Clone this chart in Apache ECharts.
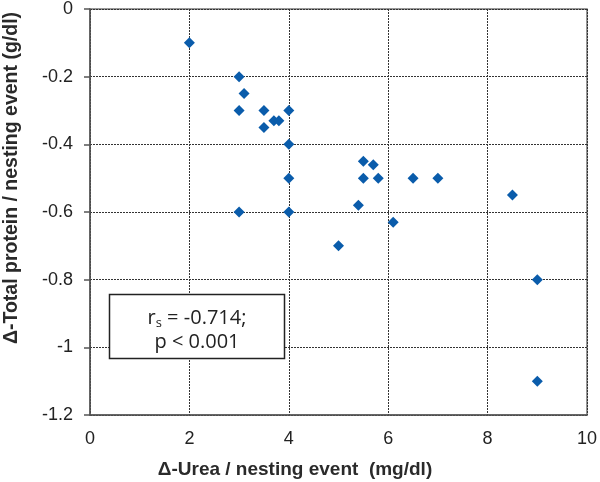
<!DOCTYPE html>
<html>
<head>
<meta charset="utf-8">
<script src="https://cdn.jsdelivr.net/npm/echarts@6/dist/echarts.min.js"></script>
<style>
html,body{margin:0;padding:0;background:#fff;}
#chart{width:600px;height:482px;}
</style>
</head>
<body>
<div id="chart"></div>
<script>
// Δ-Urea per nesting event (mg/dl)
const ureaValues = [2, 3, 3.1, 3, 3.5, 3.5, 3.7, 3.8, 4, 4, 4, 3, 4,
                    5.5, 5.7, 5.5, 5.8, 6.5, 7, 8.5, 5.4, 6.1, 5, 9, 9];
// Δ-Total protein per nesting event (g/dl)
const proteinValues = [-0.1, -0.2, -0.25, -0.3, -0.3, -0.35, -0.33, -0.33, -0.3, -0.4, -0.5, -0.6, -0.6,
                       -0.45, -0.46, -0.5, -0.5, -0.5, -0.5, -0.55, -0.58, -0.63, -0.7, -0.8, -1.1];
const xTickLabels = ['0', '2', '4', '6', '8', '10'];
const yTickLabels = ['0', '-0.2', '-0.4', '-0.6', '-0.8', '-1', '-1.2'];
const xTitle = 'Δ-Urea / nesting event  (mg/dl)';
const yTitle = 'Δ-Total protein / nesting event (g/dl)';
const statLine1 = ['r', 's', ' = -0.714;'];
const statLine2 = 'p < 0.001';

const points = ureaValues.map((u, i) => [u, proteinValues[i]]);

const chart = echarts.init(document.getElementById('chart'), null, {renderer: 'canvas'});
const labelFont = {fontFamily: 'Liberation Sans, Arial, sans-serif', fontSize: 18, color: '#222'};

chart.setOption({
  animation: false,
  backgroundColor: '#fff',
  grid: {left: 90, right: 11, top: 7, bottom: 67, show: true, borderColor: '#777', borderWidth: 1.5, backgroundColor: 'transparent'},
  xAxis: {
    type: 'value', min: 0, max: 10, interval: 2,
    axisLine: {show: true, onZero: false, lineStyle: {color: '#555', width: 1.5}},
    axisTick: {show: false},
    axisLabel: Object.assign({margin: 15, formatter: v => xTickLabels[Math.round(v / 2)]}, labelFont),
    splitLine: {show: true, lineStyle: {color: '#333', type: [2, 1], width: 1}}
  },
  yAxis: {
    type: 'value', min: -1.2, max: 0, interval: 0.2,
    axisLine: {show: true, onZero: false, lineStyle: {color: '#555', width: 1.5}},
    axisTick: {show: true, inside: false, length: 6, lineStyle: {color: '#555', width: 1.5}},
    axisLabel: Object.assign({margin: 17, formatter: v => yTickLabels[Math.round(-v / 0.2)]}, labelFont),
    splitLine: {show: true, lineStyle: {color: '#333', type: [2, 1], width: 1}}
  },
  series: [{
    type: 'scatter',
    data: points,
    symbol: 'diamond',
    symbolSize: 11,
    itemStyle: {color: '#0a5cab', opacity: 1},
    z: 5
  }],
  graphic: [
    {
      type: 'text', x: 12, y: 178, rotation: Math.PI / 2,
      style: {text: yTitle, font: 'bold 19.5px "Liberation Sans", Arial, sans-serif', fill: '#2a2a2a', align: 'center', verticalAlign: 'middle'}
    },
    {
      type: 'text', x: 295, y: 470,
      style: {text: xTitle, font: 'bold 19px "Liberation Sans", Arial, sans-serif', fill: '#2a2a2a', align: 'center', verticalAlign: 'middle'}
    },
    {
      type: 'rect', shape: {x: 109.5, y: 294.5, width: 175, height: 64},
      style: {fill: '#fff', stroke: '#222', lineWidth: 1.5}, z: 10
    },
    {
      type: 'text', x: 197, y: 318, z: 11,
      style: {
        text: '{a|' + statLine1[0] + '}{s|' + statLine1[1] + '}{a|' + statLine1[2] + '}',
        align: 'center', verticalAlign: 'middle',
        rich: {
          a: {fontFamily: '"Open Sans", "Liberation Sans", sans-serif', fontSize: 20, fill: '#222', color: '#222'},
          s: {fontFamily: '"Open Sans", "Liberation Sans", sans-serif', fontSize: 13, fill: '#222', color: '#222', padding: [10, 0, 0, 0]}
        }
      }
    },
    {
      type: 'text', x: 197, y: 342, z: 11,
      style: {text: statLine2, font: '20px "Open Sans", "Liberation Sans", sans-serif', fill: '#222', align: 'center', verticalAlign: 'middle'}
    }
  ]
});
</script>
</body>
</html>
